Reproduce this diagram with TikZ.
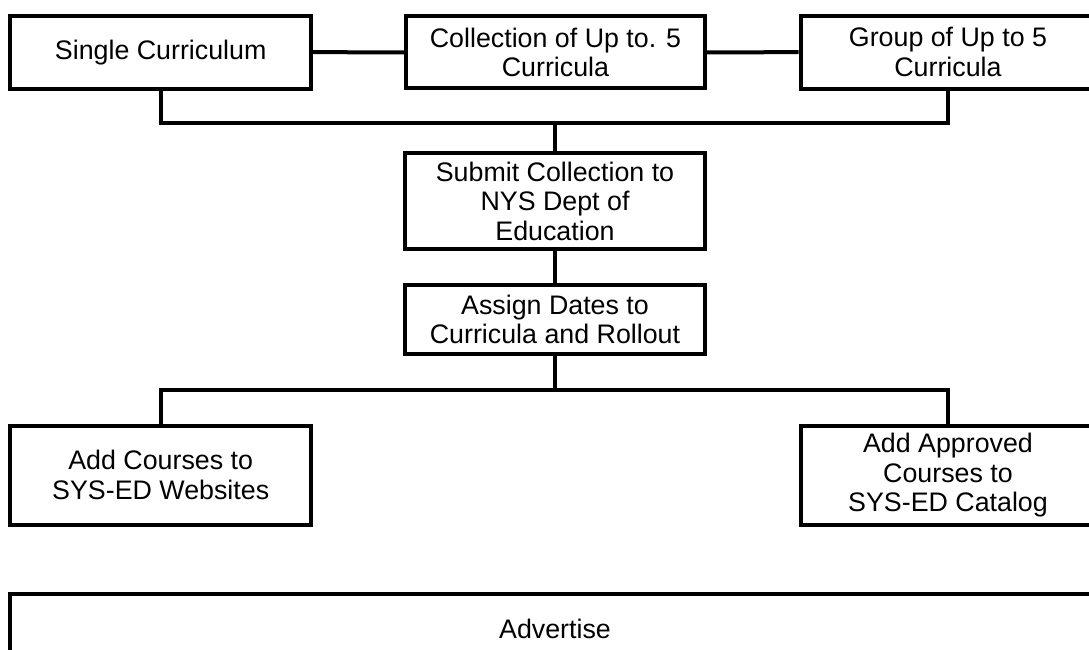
\documentclass[tikz,border=0pt]{standalone}
\usepackage{fontspec}
\setmainfont{Liberation Sans}
\begin{document}
\begin{tikzpicture}[x=1pt,y=-1pt,
  box/.style={draw=black,line width=4pt,rectangle,align=center,inner sep=0pt,
    font=\fontsize{26.8}{29.6}\selectfont},
  conn/.style={draw=black,line width=4pt}]
\useasboundingbox (0,0) rectangle (1089,650);
\clip (0,0) rectangle (1089,650);
\fill[white] (0,0) rectangle (1089,650);
\node[box,minimum width=300.6pt,minimum height=73pt] (single) at (160.7,52.1) {Single Curriculum};
\node[box,minimum width=299pt,minimum height=72pt] (coll) at (555.5,52.5) {Collection of Up to. 5\\Curricula};
\node[box,minimum width=295pt,minimum height=73pt] (group) at (948,52.1) {Group of Up to 5\\Curricula};
\node[box,minimum width=300pt,minimum height=95.7pt] (submit) at (555,201.2) {Submit Collection to\\NYS Dept of\\Education};
\node[box,minimum width=300pt,minimum height=69pt] (assign) at (555,319.5) {Assign Dates to\\Curricula and Rollout};
\node[box,minimum width=300.6pt,minimum height=99pt] (addc) at (160.7,475.2) {Add Courses to\\SYS-ED Websites};
\node[box,minimum width=295pt,minimum height=99pt] (addapp) at (948,475.2) {Add Approved\\Courses to\\SYS-ED Catalog};
\node[box,minimum width=1090pt,minimum height=70pt] (advert) at (555,629) {Advertise};
\coordinate (bus1) at (555,123.4);
\coordinate (bus2) at (555,390);
\draw[conn] (single.east) -- (coll.west);
\draw[conn] (coll.east) -- (group.west);
\draw[conn] (single.south) |- (bus1) -| (group.south);
\draw[conn] (bus1) -- (submit.north);
\draw[conn] (submit.south) -- (assign.north);
\draw[conn] (assign.south) -- (bus2);
\draw[conn] (addc.north) |- (bus2) -| (addapp.north);
\end{tikzpicture}
\end{document}
